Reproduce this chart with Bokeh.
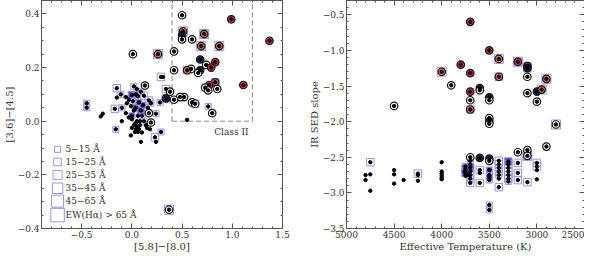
import numpy as np
from bokeh.plotting import figure
from bokeh.layouts import row
from bokeh.models import LinearAxis, FixedTicker, ColumnDataSource, Range1d
from bokeh.embed import file_html
from bokeh.resources import INLINE
from bokeh.core.properties import value

# ---------------- data: left panel  ([5.8]-[8.0] vs [3.6]-[4.5]) ----------------
# ring: 0 none, 1 open circle, 2 navy, 3 red, 4 orange, 5 pink
# sq: EW(Halpha) class 0 none, 1..6 ; fill: 0 none, 1 lavender, 2 blue
L_X = [0.50, 0.99, 1.37, 0.51, 0.50, 0.50, 0.60, 0.72, 0.69, 0.87,
       0.26, 0.01, 0.42, 0.68, 0.74, 0.83, 0.79, 0.59, 0.55, 0.68,
       0.66, 0.42, 0.29, 0.31, 1.11, 0.83, 0.77, 0.73, 0.76, 0.85,
       0.38, 0.34, 0.52, 0.48, 0.42, 0.34, 0.60, 0.63, 0.28, 0.76,
       0.80, 0.55, 0.37, 0.02, 0.13, -0.15, -0.11, -0.15, 0.00, 0.04,
       0.06, 0.12, 0.17, 0.19, -0.45, -0.45, -0.29, -0.31, -0.17, -0.10,
       -0.05, -0.01, 0.04, 0.09, 0.17, 0.24, -0.06, -0.03, 0.00, -0.10,
       0.04, 0.05, 0.00, 0.07, 0.12, 0.14, 0.15, 0.18, 0.19, -0.16,
       -0.01, 0.10, 0.09, 0.23, 0.29, 0.24, 0.02, 0.00, 0.06, 0.03,
       0.08, 0.06, 0.03, 0.10, -0.03, 0.07, 0.09, 0.01, -0.06, 0.16,
       0.11, 0.05, 0.02, 0.05, 0.08, 0.04]
L_Y = [0.395, 0.38, 0.30, 0.335, 0.32, 0.305, 0.305, 0.325, 0.28, 0.28,
       0.25, 0.25, 0.26, 0.23, 0.21, 0.22, 0.20, 0.195, 0.19, 0.19,
       0.18, 0.19, 0.165, 0.165, 0.135, 0.145, 0.135, 0.125, 0.115, 0.12,
       0.11, 0.12, 0.09, 0.09, 0.08, 0.085, 0.07, 0.065, 0.07, 0.055,
       0.03, 0.005, -0.33, 0.13, 0.133, 0.123, 0.10, 0.088, 0.098, 0.10,
       0.093, 0.095, 0.077, 0.067, 0.067, 0.05, 0.028, 0.018, 0.046, 0.05,
       0.067, 0.056, 0.05, 0.04, 0.03, 0.028, 0.03, 0.014, 0.007, 0.0,
       -0.007, -0.02, -0.025, -0.03, 0.0, -0.015, -0.025, -0.03, -0.005, -0.03,
       -0.053, -0.042, -0.077, -0.06, -0.04, -0.077, 0.04, 0.02, 0.02, -0.01,
       0.0, -0.04, -0.04, 0.02, 0.08, 0.07, 0.11, 0.075, 0.09, 0.05,
       0.06, 0.12, -0.015, 0.0, -0.015, -0.03]
L_RING = [1, 3, 3, 4, 2, 1, 1, 4, 4, 4,
          5, 1, 1, 2, 1, 3, 3, 1, 4, 2,
          1, 1, 0, 0, 3, 5, 3, 1, 1, 1,
          1, 0, 1, 1, 1, 2, 1, 1, 0, 0,
          1, 0, 1, 0, 1, 0, 0, 0, 0, 0,
          0, 0, 0, 0, 0, 0, 0, 0, 0, 0,
          0, 0, 0, 0, 1, 0, 0, 0, 0, 0,
          0, 0, 0, 0, 0, 0, 0, 0, 1, 0,
          0, 0, 0, 0, 0, 0, 0, 0, 0, 0,
          0, 0, 0, 0, 0, 0, 0, 0, 0, 0,
          0, 0, 0, 0, 0, 0]
L_SQ = [0, 1, 0, 3, 0, 0, 0, 3, 3, 3,
        3, 0, 0, 0, 0, 0, 0, 0, 2, 0,
        0, 0, 2, 0, 0, 2, 0, 1, 0, 0,
        0, 2, 0, 0, 0, 2, 1, 2, 1, 1,
        0, 0, 3, 1, 1, 2, 1, 0, 2, 1,
        1, 2, 2, 1, 1, 1, 0, 0, 2, 1,
        0, 0, 2, 2, 0, 1, 0, 0, 0, 0,
        0, 0, 0, 0, 1, 0, 0, 0, 0, 1,
        0, 0, 0, 2, 1, 0, 0, 1, 0, 0,
        0, 0, 0, 1, 0, 1, 1, 1, 0, 0,
        1, 0, 0, 0, 0, 0]
L_FILL = [0, 1, 0, 0, 0, 0, 0, 1, 0, 0,
          0, 0, 0, 0, 0, 0, 0, 0, 0, 0,
          0, 0, 0, 0, 0, 1, 0, 0, 0, 0,
          0, 0, 0, 0, 0, 0, 0, 0, 0, 0,
          0, 0, 0, 0, 0, 0, 0, 0, 2, 2,
          0, 0, 0, 0, 0, 0, 0, 0, 0, 0,
          0, 0, 2, 2, 0, 0, 0, 0, 0, 0,
          0, 0, 0, 0, 0, 0, 0, 0, 0, 0,
          0, 0, 0, 0, 0, 0, 0, 2, 0, 0,
          0, 0, 0, 0, 0, 2, 0, 0, 0, 0,
          2, 0, 0, 0, 0, 0]

# ---------------- data: right panel (Teff vs IR SED slope) ----------------
R_T = [3700, 3500, 3400, 3200, 3100, 3100, 3800, 4000, 3700, 3400,
       3100, 2900, 3900, 3600, 3600, 3000, 2950, 3100, 3700, 3500,
       3500, 3700, 3000, 4500, 3700, 3500, 3500, 3500, 2800, 2900,
       3100, 3100, 3200, 3700, 3600, 3500, 3500, 3400, 3400, 3400,
       3400, 3400, 3400, 3400, 3300, 3300, 3300, 3300, 3300, 3300,
       3300, 3200, 3200, 3200, 3100, 3000, 3000, 3000, 3000, 3500,
       3500, 3500, 3500, 3500, 3500, 3600, 3600, 3600, 3700, 3700,
       3700, 3700, 3700, 3700, 3700, 3750, 3750, 3750, 3750, 3750,
       3760, 3730, 4750, 4800, 4800, 4750, 4750, 4500, 4500, 4500,
       4400, 4250, 4250, 4250, 4000, 4000, 4000, 4000, 4000, 4000]
R_S = [-0.60, -1.00, -1.12, -1.16, -1.22, -1.25, -1.20, -1.30, -1.32, -1.37,
       -1.37, -1.40, -1.49, -1.53, -1.56, -1.58, -1.55, -1.60, -1.58, -1.66,
       -1.70, -1.70, -1.72, -1.78, -1.83, -1.95, -2.00, -2.03, -2.04, -2.35,
       -2.40, -2.48, -2.43, -2.50, -2.51, -2.52, -2.55, -2.55, -2.60, -2.65,
       -2.70, -2.75, -2.80, -2.92, -2.56, -2.60, -2.65, -2.70, -2.75, -2.80,
       -2.84, -2.58, -2.72, -2.82, -2.85, -2.58, -2.63, -2.68, -2.81, -2.68,
       -2.75, -2.78, -2.82, -3.17, -3.24, -2.68, -2.72, -2.86, -2.55, -2.60,
       -2.65, -2.70, -2.75, -2.80, -2.86, -2.63, -2.66, -2.69, -2.72, -2.76,
       -2.70, -2.75, -2.57, -2.75, -2.82, -2.74, -2.97, -2.68, -2.74, -2.87,
       -2.82, -2.73, -2.75, -2.83, -2.57, -2.70, -2.73, -2.76, -2.79, -2.81]
R_RING = [3, 3, 4, 3, 3, 2, 3, 4, 3, 5,
          1, 4, 1, 2, 1, 2, 4, 1, 3, 2,
          1, 1, 1, 1, 5, 1, 2, 1, 1, 1,
          1, 1, 1, 1, 2, 2, 1, 0, 0, 0,
          0, 0, 0, 0, 0, 0, 0, 0, 0, 0,
          0, 0, 0, 0, 0, 0, 0, 0, 0, 0,
          0, 0, 0, 0, 0, 0, 0, 0, 0, 0,
          0, 0, 0, 0, 0, 0, 0, 0, 0, 0,
          0, 0, 0, 0, 0, 0, 0, 0, 0, 0,
          0, 0, 0, 0, 0, 0, 0, 0, 0, 0]
R_SQ = [0, 0, 3, 3, 2, 2, 0, 3, 0, 2,
        0, 3, 0, 0, 0, 0, 3, 0, 1, 0,
        0, 0, 0, 0, 2, 0, 0, 0, 3, 0,
        0, 3, 0, 0, 0, 0, 0, 2, 2, 1,
        2, 1, 0, 2, 2, 2, 0, 2, 2, 2,
        1, 2, 2, 2, 2, 2, 2, 0, 0, 1,
        1, 1, 1, 1, 1, 2, 0, 2, 1, 1,
        2, 1, 2, 1, 2, 1, 2, 1, 2, 0,
        0, 0, 2, 0, 0, 0, 0, 0, 0, 0,
        0, 2, 0, 0, 0, 0, 0, 0, 0, 0]
R_FILL = [0, 0, 0, 1, 1, 0, 0, 0, 0, 0,
          0, 0, 0, 0, 0, 0, 0, 0, 0, 0,
          0, 0, 0, 0, 0, 0, 0, 0, 0, 0,
          0, 1, 0, 0, 0, 0, 0, 0, 0, 0,
          0, 0, 0, 0, 2, 0, 0, 0, 0, 0,
          0, 0, 0, 0, 0, 0, 0, 0, 0, 2,
          0, 2, 0, 0, 0, 0, 0, 0, 0, 0,
          2, 0, 0, 0, 0, 2, 2, 2, 2, 0,
          0, 0, 0, 0, 0, 0, 0, 0, 0, 0,
          0, 0, 0, 0, 0, 0, 0, 0, 0, 0]

LEGEND_LABELS = ["5\u221215 \u00c5", "15\u221225 \u00c5", "25\u221235 \u00c5",
                 "35\u221245 \u00c5", "45\u221265 \u00c5", "EW(H\u03b1) > 65 \u00c5"]
CLASS2_BOX = [0.4, 1.2, 0.0]   # x-left, x-right, y-bottom of Class II region

L_XTICKS = [-0.5, 0.0, 0.5, 1.0, 1.5]
L_YTICKS = [-0.4, -0.2, 0.0, 0.2, 0.4]
R_XTICKS = [5000, 4500, 4000, 3500, 3000, 2500]
R_YTICKS = [-3.5, -3.0, -2.5, -2.0, -1.5, -1.0, -0.5]

# ---------------- styles ----------------
FONT = "DejaVu Serif"
TXT = "#333333"
SQ_PX = [6, 7.5, 9, 10.5, 12, 13.5]
SQ_LINE = "#9c94dc"
SQ_FILL = {0: "rgba(0,0,0,0)", 1: "#bdb3f3", 2: "#5b50c2"}
RING_FILL = {1: "white", 2: "#23215e", 3: "#d3344c", 4: "#e07a4a", 5: "#e3707e"}


def lab(v, fmt):
    s = fmt.format(v)
    return s.replace("-", "\u2212")


def tick_style(ax):
    ax.major_tick_in = 5
    ax.major_tick_out = 0
    ax.minor_tick_in = 2
    ax.minor_tick_out = 0
    ax.axis_line_color = "#555555"
    ax.major_tick_line_color = "#555555"
    ax.minor_tick_line_color = "#555555"


def style(p, xt, xminor, yt, yminor, xfmt, yfmt, xlabel, ylabel):
    bottom = p.below[0]
    left = p.left[0]
    bottom.ticker = FixedTicker(ticks=xt, minor_ticks=xminor)
    left.ticker = FixedTicker(ticks=yt, minor_ticks=yminor)
    bottom.major_label_overrides = {v: lab(v, xfmt) for v in xt}
    left.major_label_overrides = {v: lab(v, yfmt) for v in yt}
    top = LinearAxis(ticker=FixedTicker(ticks=xt, minor_ticks=xminor),
                     major_label_overrides={v: "" for v in xt},
                     major_label_standoff=0)
    right = LinearAxis(ticker=FixedTicker(ticks=yt, minor_ticks=yminor),
                       major_label_overrides={v: "" for v in yt},
                       major_label_standoff=0)
    p.add_layout(top, "above")
    p.add_layout(right, "right")
    for ax in (bottom, left, top, right):
        tick_style(ax)
    for ax in (bottom, left):
        ax.major_label_text_font = FONT
        ax.major_label_text_color = TXT
        ax.major_label_text_font_size = "9px"
        ax.axis_label_text_font = FONT
        ax.axis_label_text_font_style = "normal"
        ax.axis_label_text_color = TXT
        ax.axis_label_text_font_size = "10px"
        ax.major_label_standoff = 2
        ax.axis_label_standoff = 0
    bottom.axis_label = xlabel
    left.axis_label = ylabel
    p.xgrid.visible = False
    p.ygrid.visible = False
    p.outline_line_color = None


def draw(p, xs, ys, rings, sqs, fills):
    si = [i for i in range(len(xs)) if sqs[i] > 0]
    src = ColumnDataSource(dict(x=[xs[i] for i in si], y=[ys[i] for i in si],
                                s=[SQ_PX[sqs[i] - 1] for i in si],
                                fc=[SQ_FILL[fills[i]] for i in si]))
    p.scatter("x", "y", source=src, marker="square", size="s", fill_color="fc",
              line_color=SQ_LINE, line_width=1)
    ri = [i for i in range(len(xs)) if rings[i] > 0]
    src2 = ColumnDataSource(dict(x=[xs[i] for i in ri], y=[ys[i] for i in ri],
                                 fc=[RING_FILL[rings[i]] for i in ri]))
    p.scatter("x", "y", source=src2, marker="circle", size=7.5, fill_color="fc",
              line_color="#111111", line_width=1.2)
    p.scatter(xs, ys, marker="circle", size=3.4, color="black")


# ---------------- left figure ----------------
pl = figure(width=290, height=254, output_backend="svg", toolbar_location=None,
            x_range=Range1d(-0.9, 1.5), y_range=Range1d(-0.4, 0.45),
            min_border_left=26, min_border_right=8, min_border_top=0, min_border_bottom=18)
style(pl, L_XTICKS, list(np.round(np.arange(-0.9, 1.5001, 0.1), 2)),
      L_YTICKS, list(np.round(np.arange(-0.4, 0.4501, 0.05), 3)),
      "{:.1f}", "{:.1f}", "[5.8]\u2212[8.0]", "[3.6]\u2212[4.5]")

bx0, bx1, by0 = CLASS2_BOX
pl.line([bx0, bx0], [by0, 0.45], line_color="#888888", line_dash="5 3", line_width=1)
pl.line([bx1, bx1], [by0, 0.45], line_color="#888888", line_dash="5 3", line_width=1)
pl.line([bx0, bx1], [by0, by0], line_color="#888888", line_dash="5 3", line_width=1)
pl.text(x=[0.82], y=[-0.04], text=["Class II"], text_font=value(FONT),
        text_font_size="9px", text_color=TXT, text_baseline="middle")

draw(pl, L_X, L_Y, L_RING, L_SQ, L_FILL)

leg_y = [-0.105, -0.152, -0.20, -0.25, -0.298, -0.35]
pl.scatter([-0.74] * 6, leg_y, marker="square", size=SQ_PX, fill_color=None,
           line_color=SQ_LINE, line_width=1)
pl.text(x=[-0.66] * 6, y=leg_y, text=LEGEND_LABELS, text_font=value(FONT),
        text_font_size="9px", text_color=TXT, text_baseline="middle")

# ---------------- right figure ----------------
pr = figure(width=294, height=254, output_backend="svg", toolbar_location=None,
            x_range=Range1d(5000, 2500), y_range=Range1d(-3.5, -0.3),
            min_border_left=56, min_border_right=0, min_border_top=0, min_border_bottom=18)
style(pr, R_XTICKS, list(range(2500, 5001, 100)),
      R_YTICKS, list(np.round(np.arange(-3.5, -0.29, 0.1), 2)),
      "{:d}", "{:.1f}", "Effective Temperature (K)", "IR SED slope")

draw(pr, R_T, R_S, R_RING, R_SQ, R_FILL)

layout = row(pl, pr)
open("out.html", "w").write(file_html(layout, INLINE))
